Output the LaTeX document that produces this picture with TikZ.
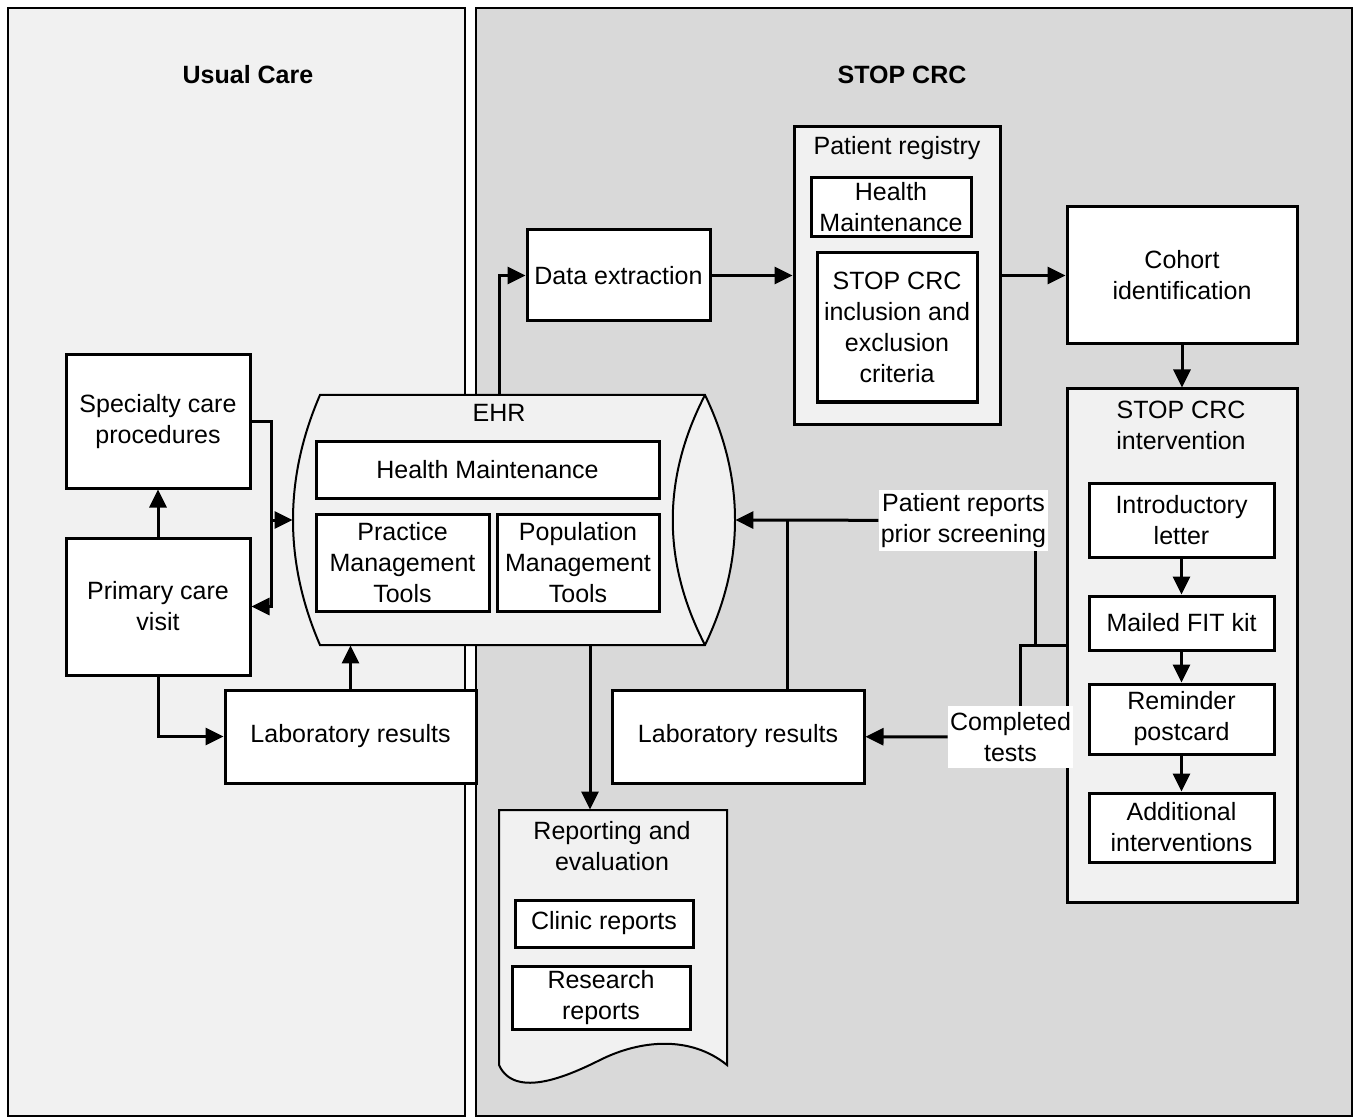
\documentclass[tikz,border=0pt]{standalone}
\usepackage{fontspec}
\setmainfont{Liberation Sans}
\definecolor{PanelLight}{RGB}{241,241,241}
\definecolor{PanelGrey}{RGB}{217,217,217}
\definecolor{HolderFill}{RGB}{241,241,241}
\usetikzlibrary{positioning,arrows.meta,calc}

\begin{document}
\begin{tikzpicture}[x=0.5pt, y=-0.5pt,
      every node/.style={font=\fontsize{12.5}{15.5}\selectfont, align=center, inner sep=0pt},
      box/.style={draw, line width=1.5pt, fill=white},
      holder/.style={draw, line width=1.5pt, fill=HolderFill},
      tag/.style={fill=white, inner sep=1pt},
      panel/.style={draw, line width=0.8pt},
      title/.style={font=\fontsize{12.5}{15}\selectfont\bfseries},
      link/.style={line width=1.5pt},
      arr/.style={link, -{Triangle[length=9pt,width=8.5pt]}}
  ]
    \useasboundingbox (0,0) rectangle (1359,1117);
    % two columns
    \draw[panel, fill=PanelLight] (8,8) rectangle (465,1116);
    \draw[panel, fill=PanelGrey] (476,8) rectangle (1352,1116);
    \node[title] (usual) at (248,75) {Usual Care};
    \node[title] (stop) at (902,75) {STOP CRC};

    % EHR drum
    \node[minimum width=221pt, minimum height=125pt] (ehr) at (514,520) {};
    \draw[line width=1pt, fill=HolderFill] (320,395) -- (705,395)
      .. controls (745,478) and (745,562) .. (705,645) -- (320,645)
      .. controls (284,562) and (284,478) .. (320,395) -- cycle;
    \draw[line width=1pt] (705,395) .. controls (662,478) and (662,562) .. (705,645);
    \node (ehrlbl) at (499,413) {EHR};
    \node[box, minimum width=171.5pt, minimum height=28.5pt] (hmE) at (487.5,469.5) {Health Maintenance};
    \node[box, minimum width=86.5pt, minimum height=48.5pt] (pmt) at (402.5,562.5) {Practice\\Management\\Tools};
    \node[box, minimum width=81pt, minimum height=48.5pt] (popt) at (578,562.5) {Population\\Management\\Tools};

    % reporting document
    \node[minimum width=114pt, minimum height=127.5pt] (rep) at (613,937.5) {};
    \draw[line width=1pt, fill=HolderFill] (499,810) -- (727,810) -- (727,1065)
      .. controls (690,1035) and (640,1040) .. (600,1060)
      .. controls (570,1075) and (515,1100) .. (499,1065) -- cycle;
    \node (replbl) at (612,846) {Reporting and\\evaluation};
    \node[box, minimum width=89pt, minimum height=23.5pt] (clin) at (604,923.5) {Clinic reports};
    \node[box, minimum width=89pt, minimum height=31.5pt] (resr) at (601,997.5) {Research\\reports};

    % usual care
    \node[box, minimum width=92pt, minimum height=66.5pt] (spec) at (158,421.5) {Specialty care\\procedures};
    \node[box, minimum width=92pt, minimum height=68.5pt] (pcv) at (158,606.5) {Primary care\\visit};
    \node[box, minimum width=125.5pt, minimum height=46.5pt] (labL) at (350.5,736.5) {Laboratory results};

    % STOP CRC
    \node[box, minimum width=91.5pt, minimum height=45.5pt] (de) at (618.5,275.5) {Data extraction};
    \node[holder, minimum width=103pt, minimum height=148.5pt] (reg) at (897,275.5) {};
    \node (reglbl) at (897,148) {Patient registry};
    \node[box, minimum width=80pt, minimum height=29.5pt] (hmR) at (891,207.5) {Health\\Maintenance};
    \node[box, minimum width=80pt, minimum height=74.5pt] (crit) at (897,327.5) {STOP CRC\\inclusion and\\exclusion\\criteria};
    \node[box, minimum width=115pt, minimum height=68.5pt] (coh) at (1182,275.5) {Cohort\\identification};
    \node[holder, minimum width=115pt, minimum height=256.5pt] (intv) at (1182,645.5) {};
    \node (intvlbl) at (1181,425) {STOP CRC\\intervention};
    \node[box, minimum width=92.5pt, minimum height=37pt] (intro) at (1181.5,520) {Introductory\\letter};
    \node[box, minimum width=92.5pt, minimum height=27pt] (fit) at (1181.5,623) {Mailed FIT kit};
    \node[box, minimum width=92.5pt, minimum height=35pt] (post) at (1181.5,719) {Reminder\\postcard};
    \node[box, minimum width=92.5pt, minimum height=34.5pt] (addl) at (1181.5,827.5) {Additional\\interventions};
    \node[box, minimum width=126pt, minimum height=46.5pt] (labR) at (738,736.5) {Laboratory results};
    \node[tag, minimum width=83.5pt, minimum height=30.5pt] (prlbl) at (963.5,520.5) {Patient reports\\prior screening};
    \node[tag, minimum width=61.5pt, minimum height=31pt] (ctlbl) at (1010.5,737) {Completed\\tests};

    % connectors, usual care
    \draw[arr] (pcv) -- (spec);
    \coordinate (j1) at ([xshift=10pt]spec.east);
    \draw[arr] (spec.east) -- (j1) |- (pcv.east);
    \draw[arr] (j1 |- ehr.west) -- (ehr.west);
    \draw[arr] (pcv.south) |- (labL.west);
    \draw[arr] (labL.north) -- (labL.north |- ehr.south);

    % connectors, STOP CRC
    \draw[arr] ([xshift=-7.5pt]ehr.north) |- (de.west);
    \draw[arr] (de) -- (reg);
    \draw[arr] (reg) -- (coh);
    \draw[arr] (coh) -- (intv);
    \draw[arr] (intro) -- (fit);
    \draw[arr] (fit) -- (post);
    \draw[arr] (post) -- (addl);
    \coordinate (r) at ([xshift=-11.5pt]rep.north);
    \draw[arr] (r |- ehr.south) -- (r);
    \draw[arr] (prlbl) -- (ehr.east);
    \draw[link] ([xshift=24.5pt]labR.north) -- ([xshift=24.5pt]labR.north |- prlbl.west);
    \coordinate (j2) at ([xshift=-22.5pt]intv.west);
    \draw[link] (intv.west) -- (j2) -- (j2 |- ctlbl.north);
    \draw[link] ([xshift=-6.5pt]prlbl.south east) -- ([xshift=-6.5pt]prlbl.south east |- intv.west);
    \draw[arr] (ctlbl) -- (labR);
  \end{tikzpicture}
\end{document}
